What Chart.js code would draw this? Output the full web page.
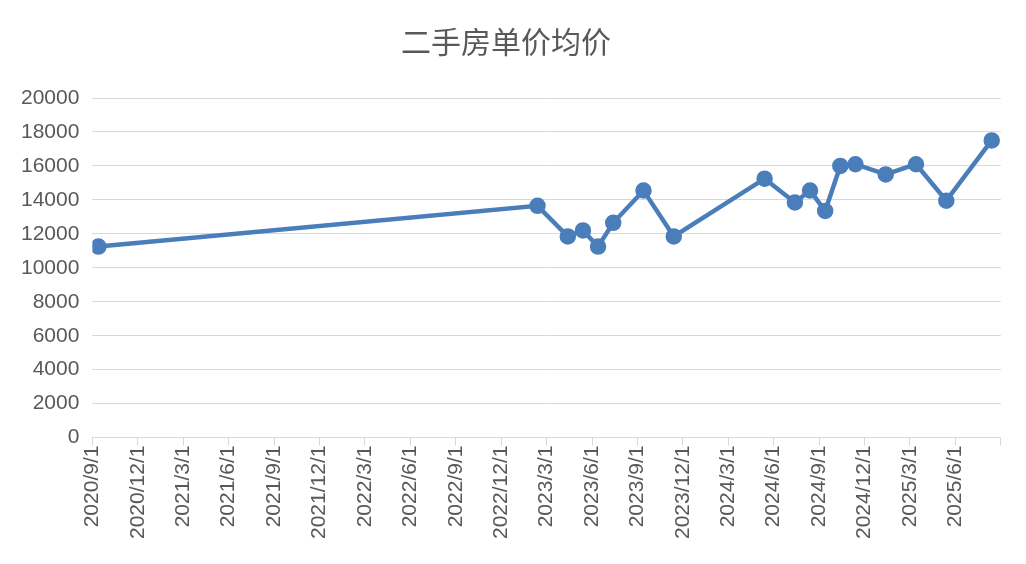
<!DOCTYPE html>
<html><head><meta charset="utf-8">
<script src="https://cdn.jsdelivr.net/npm/chart.js@4/dist/chart.umd.min.js"></script>
<style>html,body{margin:0;background:#fff}#w{width:1026px;height:564px}</style>
</head><body><div id="w"><canvas id="c"></canvas></div>
<script>
const title = "二手房单价均价";
const dates = ["2020/9/13","2023/2/13","2023/4/13","2023/5/13","2023/6/13","2023/7/13","2023/9/13","2023/11/13","2024/5/13","2024/7/13","2024/8/13","2024/9/13","2024/10/13","2024/11/13","2025/1/13","2025/3/13","2025/5/13","2025/8/13"];
const prices = [11250,13650,11850,12200,11250,12650,14550,11850,15250,13850,14550,13350,16000,16100,15500,16100,13950,17500];
const yTicks = [0,2000,4000,6000,8000,10000,12000,14000,16000,18000,20000];
const start = [2020,9];
function toM(s){const [y,m,d]=s.split('/').map(Number);return (y-start[0])*12+(m-start[1])+(d-1)/30;}
function lab(v){const t=start[1]-1+v;const y=start[0]+Math.floor(t/12);return y+'/'+(t%12+1)+'/1';}
const pts = dates.map((d,i)=>({x:toM(d),y:prices[i]}));
new Chart(document.getElementById('c'),{type:'line',
data:{datasets:[{data:pts,borderColor:'#4a7ebb',backgroundColor:'#4a7ebb',borderWidth:4.5,pointRadius:6,pointHoverRadius:6,tension:0}]},
options:{responsive:true,maintainAspectRatio:false,animation:false,
layout:{padding:{left:8,right:22,top:24,bottom:25}},
plugins:{legend:{display:false},tooltip:{enabled:false},
title:{display:true,text:title,color:'#595959',font:{family:'Noto Sans CJK SC',size:30,weight:'normal'},padding:{top:0,bottom:38}}},
scales:{
x:{type:'linear',min:0,max:60,afterBuildTicks:a=>{a.ticks=[];for(let v=0;v<=60;v+=3)a.ticks.push({value:v});},
ticks:{autoSkip:false,maxRotation:90,minRotation:90,color:'#595959',font:{family:'Liberation Sans',size:21},padding:0,callback:v=>v>=60?'':lab(v)},
grid:{drawOnChartArea:false,color:'#d9d9d9',tickLength:8},border:{color:'#d9d9d9'}},
y:{min:0,max:20000,afterBuildTicks:a=>{a.ticks=yTicks.map(v=>({value:v}));},
ticks:{color:'#595959',font:{family:'Liberation Sans',size:21},padding:13,callback:v=>String(v)},
grid:{color:'#d9d9d9',drawTicks:false},border:{display:false}}}}});
</script></body></html>
